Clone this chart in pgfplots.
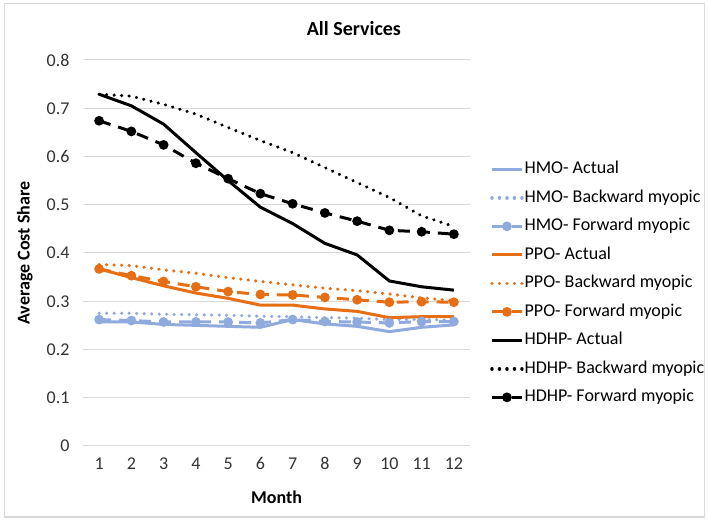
\documentclass[border=0pt]{standalone}
\usepackage{fontspec}
\setmainfont{Carlito}
\usepackage{pgfplots}
\pgfplotsset{compat=1.18}
\definecolor{hmo}{RGB}{143,170,220}
\definecolor{ppo}{RGB}{230,110,20}
\definecolor{gridc}{RGB}{217,217,217}
\begin{document}
\begin{tikzpicture}[x=1pt,y=1pt]
\useasboundingbox (0,0) rectangle (708,521);
\fill[white] (0,0) rectangle (708,521);
\draw[gridc, line width=1pt] (4,4) rectangle (704,517);
\begin{axis}[
  at={(83pt,75pt)}, anchor=south west,
  scale only axis, width=387pt, height=386pt,
  xmin=0.5, xmax=12.5, ymin=0, ymax=0.8,
  xtick={1,2,3,4,5,6,7,8,9,10,11,12},
  ytick={0,0.1,0.2,0.3,0.4,0.5,0.6,0.7,0.8},
  axis line style={draw=none}, major tick length=0pt,
  ymajorgrids, grid style={gridc, line width=1pt},
  /pgf/number format/assume math mode=true,
  yticklabel style={/pgf/number format/fixed, /pgf/number format/precision=1, xshift=-10pt},
  xticklabel style={yshift=-8pt},
  tick label style={font=\fontsize{18}{21}\selectfont, text=black!80},
  title={All Services},
  title style={at={(axis description cs:0.70,1.065)}, anchor=center, font=\fontsize{20}{24}\selectfont\bfseries},
  xlabel={Month},
  xlabel style={at={(axis description cs:0.5,-0.132)}, anchor=center, font=\fontsize{18}{21}\selectfont\bfseries},
  ylabel={Average Cost Share},
  ylabel style={at={(axis description cs:-0.150,0.5)}, anchor=center, rotate=0, font=\fontsize{18}{21}\selectfont\bfseries},
  legend style={at={(axis description cs:1.044,0.747)}, anchor=north west, draw=none, fill=none,
    font=\fontsize{18}{21}\selectfont, row sep=9.5pt,
    nodes={inner sep=1pt, text height=13pt, text depth=4pt}},
  legend cell align=left,
  legend image code/.code={\draw[mark repeat=2,mark phase=2] plot coordinates {(0pt,0pt) (15pt,0pt) (30pt,0pt)};},
  actual/.style={line width=3pt, mark=none, solid},
  backw/.style={line width=3.4pt, mark=none, dash pattern=on 0.1pt off 7.4pt, line cap=round},
  forw/.style={line width=3pt, mark=*, mark size=3.3pt, mark options={solid}, dash pattern=on 12pt off 8pt},
]
% HMO
\addplot[hmo, actual] coordinates {(1,0.257)(2,0.257)(3,0.252)(4,0.250)(5,0.248)(6,0.246)(7,0.262)(8,0.253)(9,0.248)(10,0.237)(11,0.246)(12,0.251)};
\addlegendentry{HMO- Actual}
\addplot[hmo, backw] coordinates {(1,0.275)(2,0.275)(3,0.273)(4,0.272)(5,0.271)(6,0.269)(7,0.268)(8,0.266)(9,0.265)(10,0.262)(11,0.262)(12,0.261)};
\addlegendentry{HMO- Backward myopic}
\addplot[hmo, forw] coordinates {(1,0.262)(2,0.260)(3,0.257)(4,0.257)(5,0.257)(6,0.255)(7,0.262)(8,0.258)(9,0.257)(10,0.255)(11,0.258)(12,0.258)};
\addlegendentry{HMO- Forward myopic}
% PPO
\addplot[ppo, actual] coordinates {(1,0.367)(2,0.349)(3,0.332)(4,0.317)(5,0.306)(6,0.292)(7,0.292)(8,0.284)(9,0.279)(10,0.266)(11,0.268)(12,0.268)};
\addlegendentry{PPO- Actual}
\addplot[ppo, backw] coordinates {(1,0.376)(2,0.374)(3,0.365)(4,0.358)(5,0.349)(6,0.341)(7,0.334)(8,0.327)(9,0.322)(10,0.315)(11,0.307)(12,0.301)};
\addlegendentry{PPO- Backward myopic}
\addplot[ppo, forw] coordinates {(1,0.367)(2,0.353)(3,0.341)(4,0.330)(5,0.320)(6,0.314)(7,0.313)(8,0.308)(9,0.303)(10,0.298)(11,0.299)(12,0.298)};
\addlegendentry{PPO- Forward myopic}
% HDHP
\addplot[black, actual] coordinates {(1,0.729)(2,0.705)(3,0.667)(4,0.608)(5,0.550)(6,0.495)(7,0.461)(8,0.420)(9,0.396)(10,0.342)(11,0.330)(12,0.323)};
\addlegendentry{HDHP- Actual}
\addplot[black, backw] coordinates {(1,0.729)(2,0.725)(3,0.708)(4,0.688)(5,0.660)(6,0.633)(7,0.608)(8,0.577)(9,0.546)(10,0.515)(11,0.477)(12,0.455)};
\addlegendentry{HDHP- Backward myopic}
\addplot[black, forw] coordinates {(1,0.674)(2,0.652)(3,0.624)(4,0.586)(5,0.554)(6,0.523)(7,0.502)(8,0.483)(9,0.466)(10,0.447)(11,0.444)(12,0.439)};
\addlegendentry{HDHP- Forward myopic}
\end{axis}
\end{tikzpicture}
\end{document}
